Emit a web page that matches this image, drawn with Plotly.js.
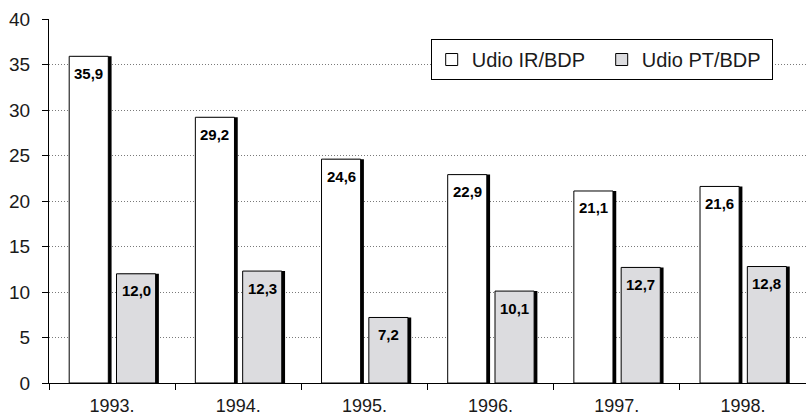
<!DOCTYPE html>
<html>
<head>
<meta charset="utf-8">
<script src="https://cdn.plot.ly/plotly-3.0.1.min.js"></script>
<style>
  html, body { margin: 0; padding: 0; background: #ffffff; }
  #chart { width: 806px; height: 416px; }
</style>
</head>
<body>
<div id="chart"></div>
<script>
// godine i udjeli (%)
const godine = ['1993.', '1994.', '1995.', '1996.', '1997.', '1998.'];
const udioIR = [35.9, 29.2, 24.6, 22.9, 21.1, 21.6];
const udioPT = [12.0, 12.3, 7.2, 10.1, 12.7, 12.8];
const yTicks = [0, 5, 10, 15, 20, 25, 30, 35, 40];

const font = 'Liberation Sans, Arial, Helvetica, sans-serif';
const barW = 0.31;
const off1 = -0.34;
const off2 = 0.035;
const sh = 0.026; // sjena desno

// sjena (crni rub desno)
const sjena1 = {
    x: godine, y: udioIR, type: 'bar', showlegend: false, hoverinfo: 'skip',
    offset: off1 + sh, width: barW,
    marker: { color: '#000000', line: { width: 0 } }
};
const sjena2 = {
    x: godine, y: udioPT, type: 'bar', showlegend: false, hoverinfo: 'skip',
    offset: off2 + sh, width: barW,
    marker: { color: '#000000', line: { width: 0 } }
};

const trace1 = {
    x: godine, y: udioIR, type: 'bar', name: 'Udio IR/BDP',
    offset: off1, width: barW,
    marker: { color: '#ffffff', line: { color: '#000000', width: 1 } }
};
const trace2 = {
    x: godine, y: udioPT, type: 'bar', name: 'Udio PT/BDP',
    offset: off2, width: barW,
    marker: { color: '#dcdcdf', line: { color: '#000000', width: 1 } }
};

// oznake vrijednosti unutar stupaca
const fmt = v => v.toFixed(1).replace('.', ',');
const oznake = [];
godine.forEach((g, i) => {
    oznake.push({ x: i + off1 + barW / 2, y: udioIR[i], text: fmt(udioIR[i]) });
    oznake.push({ x: i + off2 + barW / 2, y: udioPT[i], text: fmt(udioPT[i]) });
});
const annotations = oznake.map(o => ({
    x: o.x, y: o.y, xref: 'x', yref: 'y', text: '<b>' + o.text + '</b>',
    showarrow: false, yanchor: 'middle', yshift: -17,
    font: { family: font, size: 15, color: '#000000' }
}));

const layout = {
    width: 806, height: 416,
    margin: { l: 49, r: 0, t: 19, b: 33 },
    barmode: 'overlay',
    paper_bgcolor: '#ffffff', plot_bgcolor: '#ffffff',
    font: { family: font, color: '#1a1a1a', size: 16 },
    showlegend: true,
    legend: {
        orientation: 'h', x: 0.956, xanchor: 'right', y: 0.945, yanchor: 'top',
        bordercolor: '#000000', borderwidth: 1, bgcolor: '#ffffff',
        font: { family: font, size: 20, color: '#1a1a1a' },
        entrywidth: 125, entrywidthmode: 'pixels',
        traceorder: 'normal'
    },
    annotations: annotations,
    xaxis: {
        type: 'category', range: [-0.5, 5.5],
        showline: true, linecolor: '#000000', linewidth: 1,
        ticks: 'outside', tickson: 'boundaries', ticklen: 6, tickcolor: '#000000',
        ticklabelstandoff: 6,
        showgrid: false, zeroline: false,
        tickfont: { family: font, size: 18, color: '#1a1a1a' }
    },
    yaxis: {
        range: [0, 40], tickvals: yTicks, ticktext: yTicks.map(String),
        showline: true, linecolor: '#000000', linewidth: 1,
        ticks: 'outside', ticklen: 6, tickcolor: '#000000',
        ticklabelstandoff: 8,
        showgrid: true, gridcolor: '#7a7a7a', griddash: '1px,2px', gridwidth: 1,
        zeroline: false,
        tickfont: { family: font, size: 19, color: '#1a1a1a' }
    }
};

Plotly.newPlot('chart', [sjena1, sjena2, trace1, trace2], layout, { displayModeBar: false, staticPlot: true });
</script>
</body>
</html>
